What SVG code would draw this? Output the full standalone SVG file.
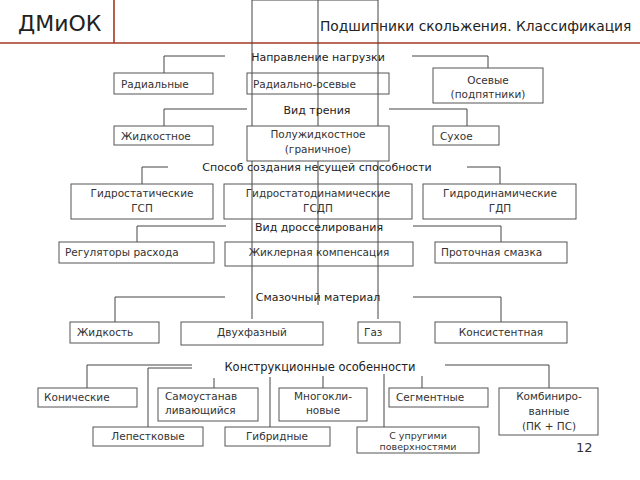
<svg xmlns="http://www.w3.org/2000/svg" width="640" height="480" viewBox="0 0 640 480">
<style>
text{font-family:"DejaVu Sans","Noto Sans",sans-serif;fill:#333;font-size:10.5px}
.c{text-anchor:middle}
.h{font-size:11px;fill:#222}
.b{fill:none;stroke:#555;stroke-width:1}
.bw{fill:#fff;stroke:#555;stroke-width:1}
.ln{fill:none;stroke:#444;stroke-width:1}
.red{stroke:#a33a22;stroke-width:1.6;fill:none}
</style>
<rect width="640" height="480" fill="#fff"/>
<g id="header">
<path class="red" d="M0,43 H640 M114,0 V43"/>
<text x="18" y="31" style="font-size:22px;fill:#222">ДМиОК</text>
<text x="320" y="31" style="font-size:13.8px;fill:#222">Подшипники скольжения. Классификация</text>
</g>
<g id="connectors">
<path class="ln" d="M252,0 H378 M252,0 V319 M318,0 V305 M378,0 V319"/>
<path class="ln" d="M225,56 H164 V73 M412,56 H488 V68"/>
<path class="ln" d="M247,109 H164 V126 M389,109 H467 V126"/>
<path class="ln" d="M168,167 H142 V184 M467,167 H500 V184"/>
<path class="ln" d="M226,226 H137 V242 M413,226 H501 V242"/>
<path class="ln" d="M225,297 H115 V322 M413,297 H501 V322"/>
<path class="ln" d="M192,365 H87 V388 M192,368 H148 V427 M214,378 V388 M270,377 V427 M323,376 V388 M384,374 V427 M422,376 V388 M445,365 H549 V388"/>
</g>
<g id="labels">
<text class="c h" x="318" y="61">Направление нагрузки</text>
<text class="c h" x="317" y="114">Вид трения</text>
<text class="c h" x="317" y="171">Способ создания несущей способности</text>
<text class="c h" x="319" y="231">Вид дросселирования</text>
<text class="c h" x="318" y="301">Смазочный материал</text>
<text class="c h" x="320" y="371" style="font-size:11.5px">Конструкционные особенности</text>
</g>
<g id="n-radial"><rect class="b" x="114" y="73" width="99" height="21"/><text x="121" y="87.5">Радиальные</text></g>
<g id="n-radax"><rect class="b" x="247" y="73" width="142" height="21"/><text x="253" y="87.5">Радиально-осевые</text></g>
<g id="n-axial"><rect class="b" x="433" y="68" width="110" height="35"/><text class="c" x="488" y="84">Осевые</text><text class="c" x="488" y="98">(подпятники)</text></g>
<g id="n-liquid"><rect class="b" x="114" y="126" width="99" height="19"/><text x="121" y="139.5">Жидкостное</text></g>
<g id="n-semi"><rect class="bw" x="247" y="126" width="142" height="35"/><text class="c" x="318" y="138">Полужидкостное</text><text class="c" x="318" y="153">(граничное)</text></g>
<g id="n-dry"><rect class="b" x="433" y="126" width="66" height="19"/><text x="440" y="139.5">Сухое</text></g>
<g id="n-gsp"><rect class="b" x="71" y="184" width="142" height="35"/><text class="c" x="142" y="197">Гидростатические</text><text class="c" x="142" y="212">ГСП</text></g>
<g id="n-gsdp"><rect class="b" x="224" y="184" width="188" height="35"/><text class="c" x="318" y="197">Гидростатодинамические</text><text class="c" x="318" y="212">ГСДП</text></g>
<g id="n-gdp"><rect class="b" x="423" y="184" width="153" height="35"/><text class="c" x="500" y="197">Гидродинамические</text><text class="c" x="500" y="212">ГДП</text></g>
<g id="n-reg"><rect class="b" x="59" y="242" width="155" height="21"/><text x="65" y="255.5">Регуляторы расхода</text></g>
<g id="n-jet"><rect class="b" x="225" y="242" width="188" height="24"/><text class="c" x="319" y="255.5">Жиклерная компенсация</text></g>
<g id="n-flow"><rect class="b" x="435" y="242" width="132" height="21"/><text x="441" y="255.5">Проточная смазка</text></g>
<g id="n-fluid"><rect class="b" x="70" y="322" width="89" height="21"/><text x="77" y="336">Жидкость</text></g>
<g id="n-twophase"><rect class="b" x="181" y="322" width="142" height="23"/><text class="c" x="252" y="336">Двухфазный</text></g>
<g id="n-gas"><rect class="b" x="358" y="322" width="42" height="21"/><text x="364" y="336">Газ</text></g>
<g id="n-grease"><rect class="b" x="435" y="322" width="132" height="21"/><text class="c" x="501" y="336">Консистентная</text></g>
<g id="n-conic"><rect class="b" x="38" y="388" width="99" height="19"/><text x="44" y="401">Конические</text></g>
<g id="n-self"><rect class="b" x="158" y="388" width="100" height="33"/><text x="165" y="400">Самоустанав</text><text x="165" y="414">ливающийся</text></g>
<g id="n-multi"><rect class="b" x="279" y="388" width="88" height="33"/><text class="c" x="323" y="400">Многокли-</text><text class="c" x="323" y="414">новые</text></g>
<g id="n-segm"><rect class="b" x="389" y="388" width="99" height="19"/><text x="396" y="401">Сегментные</text></g>
<g id="n-comb"><rect class="b" x="499" y="388" width="99" height="47"/><text class="c" x="549" y="400">Комбиниро-</text><text class="c" x="549" y="415">ванные</text><text class="c" x="549" y="430">(ПК + ПС)</text></g>
<g id="n-petal"><rect class="b" x="93" y="427" width="110" height="19"/><text class="c" x="148" y="440">Лепестковые</text></g>
<g id="n-hybrid"><rect class="b" x="225" y="427" width="105" height="19"/><text class="c" x="277" y="440">Гибридные</text></g>
<g id="n-elastic"><rect class="b" x="357" y="427" width="122" height="26"/><text class="c" x="418" y="439" style="font-size:9.5px">С упругими</text><text class="c" x="418" y="450" style="font-size:9.5px">поверхностями</text></g>
<text x="576" y="452" style="font-size:13px">12</text>
</svg>
